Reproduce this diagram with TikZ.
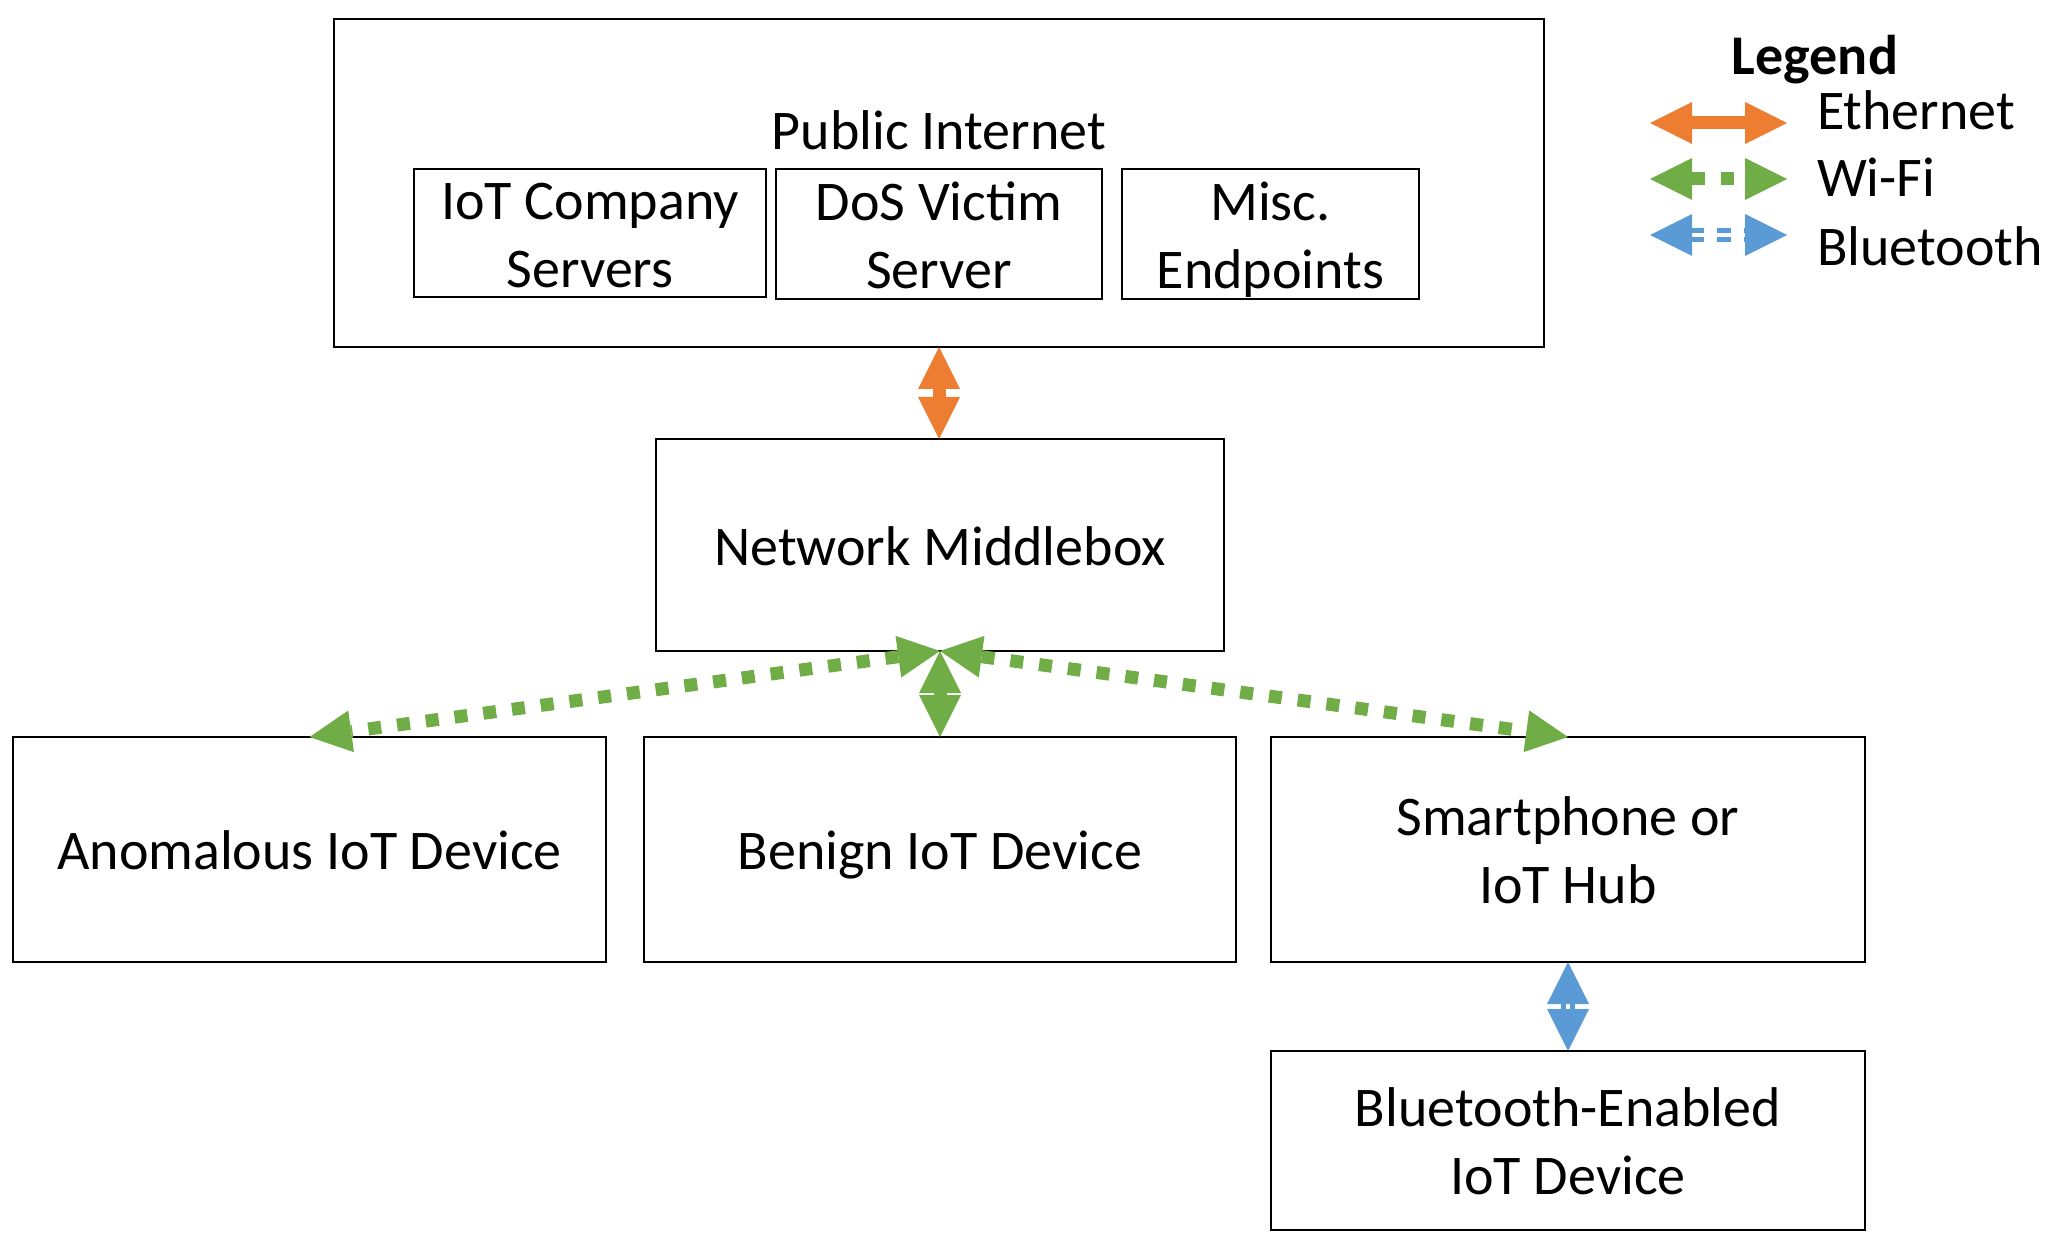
\documentclass[tikz,border=0pt]{standalone}
\usepackage{fontspec}
\setmainfont{Carlito}
\usetikzlibrary{arrows.meta}
\definecolor{eorange}{HTML}{ED7D31}
\definecolor{wgreen}{HTML}{70AD47}
\definecolor{bblue}{HTML}{5B9BD5}
\newcommand\lstrut{\rule[-4.6pt]{0pt}{29.4pt}}
\begin{document}
\begin{tikzpicture}[x=0.5pt,y=-0.5pt,
  >={Triangle[length=21pt,width=21pt,line width=0pt]},
  box/.style={draw=black, line width=0.9pt, inner sep=0pt, outer sep=0pt, align=center, font=\fontsize{28}{34}\selectfont},
  txt/.style={inner sep=0pt, outer sep=0pt, font=\fontsize{28}{34}\selectfont},
  ethlink/.style={color=eorange, line width=6.5pt, <->},
  wifilink/.style={color=wgreen, line width=6.5pt, <->, dash pattern=on 6.5pt off 8pt},
  btlink/.style={color=bblue, line width=0.5pt, <->, line cap=butt, dash pattern=on 0pt off 3000pt,
    preaction={draw=bblue, -, line width=2.5pt, double=white, double distance=2pt,
      dash pattern=on 7pt off 6.5pt, shorten <=20pt, shorten >=20pt}}
]
\useasboundingbox (0,0) rectangle (2056,1240);

% Public internet
\node[box, minimum width=605pt, minimum height=164pt] (internet) at (939,183) {};
\node[txt, anchor=base] (pubtitle) at (939,150) {Public Internet};
\node[box, minimum width=176pt, minimum height=64pt] (iotsrv) at (590,233) {\lstrut IoT Company\\\lstrut Servers};
\node[box, minimum width=163pt, minimum height=65pt] (dos) at (939,234) {\lstrut DoS Victim\\\lstrut Server};
\node[box, minimum width=148.5pt, minimum height=65pt] (misc) at (1270.5,234) {\lstrut Misc.\\\lstrut Endpoints};

% Middlebox
\node[box, minimum width=284pt, minimum height=106pt] (mb) at (940,545) {\lstrut Network Middlebox};

% Devices
\node[box, minimum width=296.5pt, minimum height=112.5pt] (anom) at (309.5,849.5) {\lstrut Anomalous IoT Device};
\node[box, minimum width=296pt, minimum height=112.5pt] (benign) at (940,849.5) {\lstrut Benign IoT Device};
\node[box, minimum width=297pt, minimum height=112.5pt] (smart) at (1568,849.5) {\lstrut Smartphone or\\\lstrut IoT Hub};
\node[box, minimum width=297pt, minimum height=89.5pt] (bte) at (1568,1140.5) {\lstrut Bluetooth-Enabled\\\lstrut IoT Device};

% Links
\draw[ethlink] (internet.south) -- (internet.south |- mb.north);
\draw[wifilink] (mb.south) -- (anom.north);
\draw[wifilink] (mb.south) -- (benign.north);
\draw[wifilink] (mb.south) -- (smart.north);
\draw[btlink] (smart.south) -- (bte.north);

% Legend
\node[txt, font=\fontsize{28}{34}\selectfont\bfseries, anchor=base] (legtitle) at (1815,75) {Legend};
\coordinate (e1) at (1650,123); \coordinate (e2) at (1787,123);
\coordinate (w1) at (1650,179); \coordinate (w2) at (1787,179);
\coordinate (b1) at (1650,235); \coordinate (b2) at (1787,235);
\draw[ethlink] (e1) -- (e2);
\draw[wifilink] (w1) -- (w2);
\draw[btlink] (b1) -- (b2);
\node[txt, anchor=base west] (ethtxt) at (1817,130) {Ethernet};
\node[txt, anchor=base west] (wifitxt) at (1817,197) {Wi-Fi};
\node[txt, anchor=base west] (bttxt) at (1817,266) {Bluetooth};
\end{tikzpicture}
\end{document}
